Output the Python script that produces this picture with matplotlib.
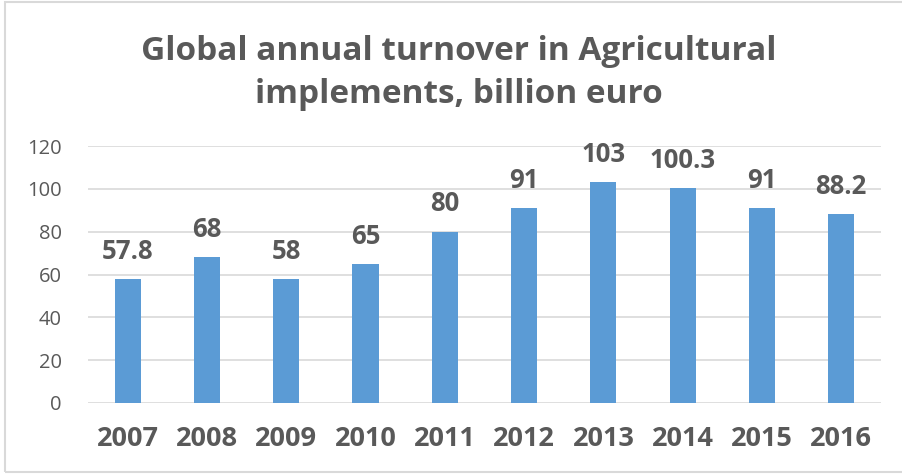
import matplotlib.pyplot as plt
from matplotlib.patches import Rectangle

# Chart data
years = ["2007", "2008", "2009", "2010", "2011", "2012", "2013", "2014", "2015", "2016"]
turnover = [57.8, 68, 58, 65, 80, 91, 103, 100.3, 91, 88.2]
labels = ["57.8", "68", "58", "65", "80", "91", "103", "100.3", "91", "88.2"]

bar_color = "#5B9BD5"
text_color = "#595959"
grid_color = "#D9D9D9"

plt.rcParams["font.family"] = ["Open Sans", "DejaVu Sans"]

fig = plt.figure(figsize=(9.02, 4.74), dpi=100)
ax = fig.add_axes([0.0976, 0.1498, 0.879, 0.542])

x = range(len(years))
ax.bar(x, turnover, width=0.33, color=bar_color, zorder=3)

for xi, v, lab in zip(x, turnover, labels):
    ax.annotate(lab, (xi, v), xytext=(0, 20), textcoords="offset points",
                ha="center", va="center", fontsize=18.5, fontweight="bold",
                color=text_color)

ax.set_xlim(-0.5, len(years) - 0.5)
ax.set_ylim(0, 120)
ax.set_yticks(range(0, 121, 20))
ax.set_xticks(list(x))
ax.set_xticklabels(years, fontsize=19.5, fontweight="bold", color=text_color)
ax.tick_params(axis="y", length=0, pad=19, labelsize=14.5, labelcolor=text_color)
ax.tick_params(axis="x", length=0, pad=16.5)
ax.grid(axis="y", color=grid_color, linewidth=1.2, zorder=0)
for s in ax.spines.values():
    s.set_visible(False)

fig.text(0.509, 0.846, "Global annual turnover in Agricultural\nimplements, billion euro",
         ha="center", va="center", fontsize=24, fontweight="bold",
         color=text_color, linespacing=1.38)

# chart frame
fig.patches.append(Rectangle((5 / 902, 2 / 474), 1.0, 470 / 474, transform=fig.transFigure,
                             fill=False, edgecolor="#D9D9D9", linewidth=1.5))

fig.savefig("out.png", dpi=100)
